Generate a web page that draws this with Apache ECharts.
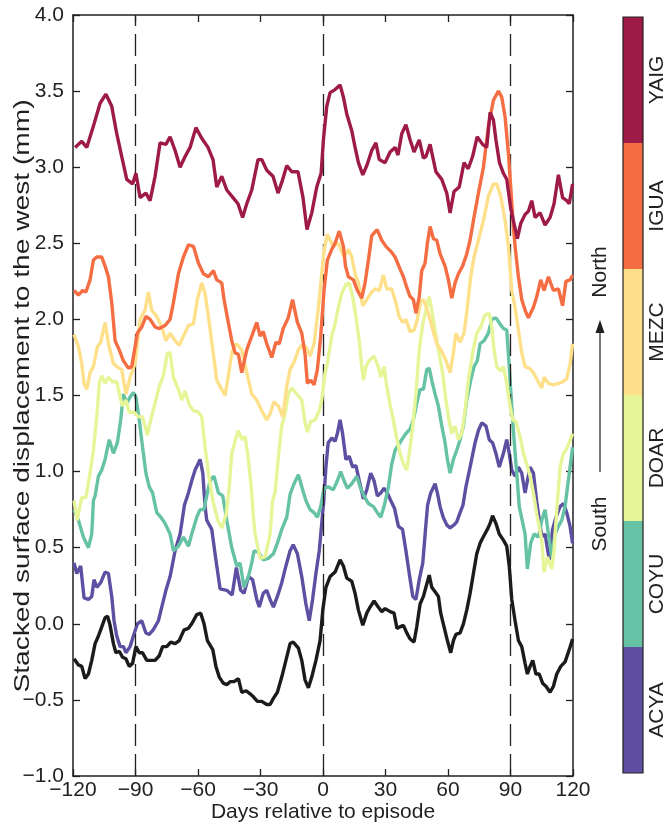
<!DOCTYPE html>
<html>
<head>
<meta charset="utf-8">
<script src="https://cdn.jsdelivr.net/npm/echarts@6/dist/echarts.min.js"></script>
<style>
html,body{margin:0;padding:0;background:#fff;}
#chart{width:666px;height:828px;}
</style>
</head>
<body>
<div id="chart"></div>
<script>
// ---- data: [day, displacement (mm)] ----
const xTicks = [-120, -90, -60, -30, 0, 30, 60, 90, 120];
const yTicks = [-1.0, -0.5, 0.0, 0.5, 1.0, 1.5, 2.0, 2.5, 3.0, 3.5, 4.0];
const episodeDays = [-90, 0, 90];
const stations = ['ACYA', 'COYU', 'DOAR', 'MEZC', 'IGUA', 'YAIG'];
const stationColors = ['#5E4FA2', '#66C2A5', '#E6F598', '#FEE08B', '#F46D43', '#9E1B47'];
const yTitle = 'Stacked surface displacement to the west (mm)';
const xTitle = 'Days relative to episode';

const stackMean = [[-119.5,-0.23],[-117.4,-0.27],[-115.8,-0.28],[-114.2,-0.36],[-112.6,-0.33],[-111,-0.24],[-109.4,-0.13],[-107.8,-0.08],[-106.2,-0.02],[-104.6,0.04],[-103.4,0.05],[-102.2,-0.01],[-100.6,-0.13],[-99.4,-0.19],[-97.8,-0.18],[-96.2,-0.22],[-94.6,-0.23],[-93,-0.28],[-91.4,-0.26],[-89.8,-0.15],[-88.2,-0.19],[-86.6,-0.19],[-84.6,-0.24],[-82.7,-0.24],[-80.6,-0.24],[-78.6,-0.21],[-77,-0.15],[-75,-0.15],[-73.1,-0.12],[-71,-0.13],[-69,-0.11],[-66.7,-0.04],[-64.6,-0.03],[-63,0.00],[-60.6,0.06],[-58.7,0.07],[-57.1,0.00],[-55.5,-0.11],[-52.9,-0.17],[-51.4,-0.28],[-49.8,-0.35],[-47.9,-0.39],[-46.2,-0.40],[-44.6,-0.38],[-42.7,-0.38],[-40.6,-0.36],[-39,-0.45],[-36.9,-0.44],[-35,-0.46],[-33.4,-0.48],[-31.5,-0.51],[-29.4,-0.51],[-27,-0.53],[-25.4,-0.53],[-23.8,-0.49],[-21.9,-0.45],[-19.8,-0.35],[-17.8,-0.24],[-15.8,-0.13],[-14.3,-0.12],[-11.8,-0.16],[-10.2,-0.24],[-8.6,-0.37],[-7,-0.42],[-5.4,-0.35],[-3.4,-0.24],[-1.4,-0.11],[-0.1,0.09],[1.4,0.24],[3.4,0.31],[5.8,0.34],[8.2,0.42],[9.8,0.38],[11.4,0.30],[13.8,0.28],[15.4,0.20],[17,0.09],[19.1,-0.01],[21,0.07],[22.6,0.11],[24.5,0.15],[26.5,0.11],[28.2,0.08],[29.8,0.10],[32.2,0.08],[34.1,0.07],[35.5,-0.03],[37,-0.02],[38.6,-0.01],[40.2,-0.06],[41.8,-0.10],[43.7,-0.12],[45,-0.02],[46.6,0.13],[48.2,0.18],[49.4,0.24],[51,0.32],[52.2,0.24],[53.8,0.21],[55.4,0.18],[56.5,0.07],[58.1,-0.02],[59.7,-0.11],[61.3,-0.19],[62.6,-0.11],[63.8,-0.07],[65.8,-0.06],[67.4,0.00],[69,0.09],[70.6,0.20],[72.2,0.33],[73.8,0.46],[75.4,0.53],[77.3,0.58],[78.9,0.62],[80.2,0.66],[81.4,0.71],[83,0.66],[84.6,0.59],[86.6,0.55],[88.2,0.51],[89.4,0.38],[90.6,0.16],[92.2,0.02],[93.8,-0.11],[95.4,-0.15],[97,-0.26],[98.1,-0.33],[99.4,-0.28],[100.7,-0.24],[102.2,-0.33],[103.8,-0.33],[105.4,-0.39],[107,-0.41],[109,-0.45],[110.6,-0.41],[112.2,-0.33],[114.1,-0.28],[116.2,-0.25],[118.2,-0.17],[119.8,-0.10]];

const acya = [[-119.5,0.40],[-118.2,0.33],[-116.3,0.38],[-114.7,0.17],[-112.6,0.16],[-111,0.18],[-109.9,0.29],[-108.6,0.24],[-106.7,0.27],[-104.6,0.34],[-103,0.33],[-101.4,0.18],[-100.3,0.02],[-99,-0.08],[-97.4,-0.15],[-95.8,-0.15],[-94.6,-0.19],[-92.6,-0.15],[-91,-0.08],[-89.1,0.00],[-87,0.02],[-85,-0.06],[-83.4,-0.07],[-81.5,-0.04],[-79,0.02],[-77.4,0.11],[-75.4,0.22],[-73.4,0.31],[-71,0.48],[-68.6,0.59],[-66.5,0.78],[-64.6,0.86],[-63,0.94],[-61.4,1.01],[-59,1.08],[-57.7,0.99],[-56.6,0.77],[-55.8,0.68],[-53.4,0.62],[-51.4,0.42],[-49.4,0.23],[-46.2,0.22],[-43.6,0.19],[-41.6,0.37],[-39.5,0.22],[-37.9,0.20],[-35.8,0.31],[-33.8,0.29],[-31.8,0.16],[-30.6,0.11],[-28.7,0.20],[-27,0.22],[-25.4,0.16],[-23.8,0.11],[-21.9,0.18],[-19.8,0.27],[-17.8,0.38],[-15.8,0.48],[-14.3,0.52],[-12.3,0.46],[-10.2,0.31],[-8.2,0.13],[-6.6,0.02],[-5,0.16],[-3.4,0.33],[-1.8,0.48],[-0.6,0.66],[0.3,0.80],[1.4,1.03],[2.5,1.19],[4.2,1.22],[5.8,1.20],[6.9,1.25],[8.2,1.34],[9.4,1.25],[11,1.08],[12.6,1.10],[14.2,1.03],[15.8,1.04],[17.4,0.94],[19.4,0.82],[21,0.88],[22.9,0.99],[24.5,0.94],[26.1,0.84],[27.7,0.86],[29.3,0.89],[30.9,0.86],[32.5,0.81],[34.3,0.76],[36.2,0.64],[38.2,0.62],[39.8,0.48],[41.4,0.33],[43.1,0.18],[44.6,0.16],[46.2,0.29],[47.9,0.40],[49.2,0.62],[50.2,0.78],[51.7,0.86],[53.8,0.92],[54.9,0.86],[56.2,0.77],[57.7,0.70],[59.4,0.65],[61,0.63],[62.9,0.65],[64.2,0.67],[65.8,0.73],[67.2,0.78],[68.6,0.90],[70.6,1.03],[73,1.19],[74.6,1.27],[76.2,1.32],[78.2,1.30],[79.8,1.21],[81.4,1.19],[83,1.12],[84.6,1.03],[86.6,1.12],[88.2,1.21],[89.4,1.12],[90.6,1.01],[92.2,0.97],[93.8,1.03],[95.4,0.99],[97,0.86],[98.1,0.94],[99.4,1.03],[101,0.99],[102.6,0.80],[105,0.57],[106.6,0.59],[108.6,0.42],[110.2,0.62],[111.8,0.70],[113.8,0.77],[115.5,0.79],[117,0.73],[118.6,0.64],[119.8,0.53]];

const coyu = [[-119.5,0.75],[-117.4,0.68],[-115,0.57],[-112.6,0.50],[-111,0.59],[-110.2,0.81],[-109.4,0.84],[-107.8,0.97],[-106.2,1.01],[-104.6,1.08],[-102.6,1.21],[-100.6,1.12],[-98.7,1.19],[-97.1,1.34],[-95.8,1.51],[-94.2,1.45],[-92.6,1.49],[-91,1.52],[-89.8,1.49],[-88.2,1.34],[-86.6,1.16],[-85,0.99],[-83.4,0.90],[-81.8,0.86],[-79.8,0.73],[-77.8,0.70],[-75.8,0.66],[-73.4,0.59],[-71.8,0.48],[-69.4,0.51],[-67,0.57],[-64.6,0.51],[-63,0.59],[-60.6,0.70],[-59,0.75],[-57.2,0.75],[-55.5,0.86],[-54.2,0.94],[-52.3,0.97],[-50.2,0.86],[-48.1,0.84],[-46.2,0.68],[-43.8,0.50],[-41.4,0.38],[-39.8,0.40],[-37.9,0.24],[-35.8,0.31],[-34.2,0.40],[-33.1,0.48],[-31,0.47],[-28.7,0.42],[-26.2,0.43],[-23.8,0.46],[-21.9,0.53],[-19.8,0.62],[-17.4,0.70],[-15.8,0.85],[-13.9,0.92],[-11.8,0.98],[-10.2,0.90],[-8.2,0.81],[-6.2,0.75],[-4.3,0.73],[-2.7,0.70],[-1.1,0.77],[0.5,0.89],[2.5,0.90],[4.9,0.88],[6.9,0.94],[8.5,1.00],[10.1,0.94],[11.7,0.89],[13.8,0.92],[16.2,0.97],[17.8,0.90],[19.7,0.84],[21.8,0.79],[24.2,0.77],[26.1,0.73],[27.7,0.70],[29.3,0.77],[31.4,0.90],[33,1.05],[34.6,1.14],[36.5,1.18],[37.8,1.21],[39.8,1.25],[41.8,1.28],[43.4,1.34],[45,1.45],[46.6,1.54],[48.2,1.54],[49.8,1.67],[51,1.68],[52.2,1.60],[53.8,1.51],[55.4,1.43],[57,1.30],[58.6,1.19],[59.7,1.08],[61,0.99],[62.6,1.08],[64.2,1.14],[65.8,1.21],[67.4,1.30],[69,1.47],[70.9,1.60],[72.5,1.69],[74.1,1.73],[75.4,1.84],[77.3,1.86],[79.4,1.91],[81,2.00],[83,2.01],[85,1.97],[86.6,1.94],[88.2,1.93],[89.4,1.69],[90.6,1.43],[91.7,1.21],[93,0.99],[94.2,0.77],[97,0.59],[98.1,0.36],[99.7,0.53],[101.3,0.59],[103.4,0.57],[105,0.68],[106.6,0.75],[108.2,0.59],[109.8,0.44],[111.4,0.59],[113,0.64],[114.6,0.68],[116.2,0.77],[117,0.86],[118.6,1.03],[119.8,1.16]];

const doar = [[-119.5,0.81],[-118,0.68],[-115.8,0.83],[-113.8,0.83],[-111.8,0.99],[-110.2,1.14],[-108.6,1.36],[-107.4,1.58],[-106.2,1.63],[-104.6,1.58],[-103,1.62],[-101,1.59],[-99,1.59],[-97.4,1.49],[-96.2,1.43],[-94.6,1.47],[-93,1.39],[-90.7,1.39],[-88.6,1.36],[-86.6,1.36],[-84.3,1.24],[-82.7,1.34],[-80.6,1.45],[-78.6,1.56],[-76.6,1.63],[-74.7,1.78],[-73.4,1.78],[-71.8,1.62],[-69.4,1.54],[-67.8,1.47],[-66.2,1.53],[-64.2,1.44],[-62.2,1.40],[-59.8,1.39],[-58.2,1.36],[-56.6,1.16],[-55,0.99],[-52.9,0.81],[-50.5,0.68],[-48.6,0.63],[-46.5,0.72],[-45,0.90],[-43.8,1.12],[-42,1.21],[-40.6,1.27],[-39,1.21],[-37.4,1.23],[-35.8,1.08],[-34.2,0.86],[-33.4,0.70],[-32.6,0.59],[-30.2,0.43],[-27.8,0.44],[-25.4,0.59],[-24.2,0.81],[-23,0.86],[-21.4,1.10],[-19.8,1.30],[-18.2,1.38],[-16.7,1.51],[-15,1.55],[-12.6,1.51],[-10.2,1.47],[-8.6,1.32],[-7.5,1.26],[-5.9,1.33],[-3.8,1.34],[-1.8,1.40],[-0.6,1.47],[1,1.65],[2.1,1.71],[4.2,1.89],[5.8,1.97],[7.4,2.08],[9,2.17],[11,2.23],[12.6,2.24],[14.2,2.15],[15.8,2.02],[17.4,1.86],[18.6,1.69],[19.4,1.60],[20.6,1.69],[22.2,1.73],[24.5,1.76],[26.5,1.69],[27.7,1.62],[29.3,1.69],[30.6,1.56],[32.2,1.44],[33.8,1.34],[35.2,1.23],[37,1.12],[38.6,1.05],[40.2,1.01],[41.4,1.12],[43.1,1.30],[44.6,1.51],[46.2,1.80],[47.9,1.97],[49.4,2.06],[51,2.15],[52.2,2.06],[53.8,1.93],[55.4,1.80],[57.4,1.65],[59,1.47],[60.2,1.36],[61.8,1.25],[63.4,1.30],[65,1.21],[66.6,1.25],[68.2,1.40],[69.8,1.60],[71.8,1.78],[73.8,1.91],[75.7,1.95],[77.8,2.03],[79.8,2.04],[81,1.95],[82.1,1.80],[83.4,1.69],[85.3,1.66],[86.6,1.69],[88.2,1.58],[89.8,1.43],[91.1,1.34],[92.6,1.33],[94.6,1.23],[96.2,1.12],[97.8,1.05],[99.4,0.97],[101,0.86],[102.6,0.72],[105,0.55],[106.1,0.34],[107.7,0.44],[109.8,0.36],[110.9,0.48],[112.2,0.75],[113.8,1.03],[115.4,1.12],[116.6,1.14],[118.2,1.19],[119.8,1.25]];

const mezc = [[-119.5,1.90],[-117.4,1.82],[-115.8,1.71],[-114.7,1.58],[-113.4,1.54],[-111.8,1.65],[-110.2,1.69],[-108.3,1.82],[-106.7,1.85],[-104.6,1.98],[-103,1.84],[-100.6,1.71],[-99,1.69],[-96.6,1.67],[-94.6,1.51],[-92.6,1.62],[-90.2,1.71],[-87.8,2.00],[-85.4,2.06],[-83.8,2.18],[-82.2,2.06],[-79.8,2.02],[-77.4,1.95],[-75.4,1.86],[-73.4,1.91],[-71,1.86],[-69,1.83],[-67,1.89],[-64.6,1.96],[-62.2,1.97],[-60.3,2.13],[-58.2,2.24],[-56.6,2.17],[-55,2.02],[-52.9,1.80],[-51,1.60],[-49.4,1.56],[-47,1.50],[-45.2,1.65],[-43.6,1.79],[-41.5,1.84],[-39,1.80],[-36.6,1.65],[-34.2,1.51],[-31.8,1.47],[-29.4,1.40],[-27,1.34],[-25.4,1.38],[-23.5,1.46],[-21.4,1.43],[-19.3,1.36],[-17.4,1.56],[-15.8,1.67],[-13.9,1.72],[-11.8,1.80],[-10.2,1.83],[-8.2,1.82],[-6.2,1.76],[-4.3,1.84],[-2.2,2.08],[-0.6,2.30],[0.5,2.45],[2,2.56],[4.9,2.48],[7.4,2.50],[10.1,2.41],[12.2,2.46],[13.8,2.41],[15.4,2.30],[17,2.24],[19.1,2.09],[21,2.13],[23.4,2.18],[25,2.20],[27,2.19],[29,2.29],[30.6,2.20],[33,2.20],[35,2.11],[36.5,2.02],[38.2,1.98],[39.8,2.00],[41.8,1.92],[43.7,1.93],[45.3,2.00],[46.9,2.12],[48.2,2.13],[50.1,2.06],[52.2,1.96],[54.6,1.84],[57,1.79],[59,1.73],[61,1.65],[62.6,1.78],[63.8,1.91],[65.8,1.85],[67.7,1.91],[69.3,2.08],[70.9,2.28],[72.5,2.41],[74.6,2.52],[77,2.65],[79.4,2.81],[81.8,2.89],[83.4,2.89],[85.3,2.81],[87.4,2.65],[89,2.48],[90.6,2.19],[92.2,2.08],[93.8,1.93],[95.4,1.78],[97,1.69],[99,1.68],[101,1.65],[102.9,1.60],[105,1.55],[106.1,1.62],[108.2,1.58],[110.6,1.57],[113,1.58],[115,1.59],[117,1.61],[118.6,1.71],[119.8,1.84]];

const igua = [[-119.5,2.19],[-117.4,2.16],[-115.4,2.19],[-113.8,2.18],[-111.8,2.26],[-110.2,2.39],[-108.6,2.41],[-106.2,2.41],[-104.6,2.35],[-103,2.28],[-101.4,2.11],[-99.8,1.86],[-97.8,1.80],[-95.9,1.73],[-93.4,1.68],[-91.8,1.69],[-90.2,1.82],[-89.1,1.91],[-87,1.95],[-85,2.02],[-83,2.00],[-80.6,1.95],[-78.6,1.94],[-75.8,1.96],[-73.4,2.00],[-71.8,2.11],[-69.4,2.30],[-67,2.41],[-64.6,2.49],[-62.2,2.48],[-59.8,2.37],[-57.4,2.30],[-55,2.28],[-52.6,2.32],[-51,2.26],[-48.6,2.24],[-47.5,2.13],[-46,2.02],[-43.8,1.86],[-42.2,1.78],[-40.6,1.77],[-39,1.65],[-36.6,1.80],[-34.2,1.89],[-31.8,1.98],[-30.2,1.89],[-28.7,1.92],[-27,1.84],[-24.6,1.75],[-22.6,1.85],[-21,1.84],[-19.1,1.94],[-16.7,2.01],[-14.6,2.13],[-12.3,1.98],[-10.2,1.91],[-8.6,1.77],[-7.5,1.58],[-5.9,1.60],[-4.3,1.57],[-2.7,1.67],[-1.1,1.89],[0.5,2.19],[2.1,2.39],[4.2,2.46],[5.8,2.50],[7.8,2.58],[9.8,2.48],[10.8,2.35],[12.2,2.28],[14.6,2.26],[16.5,2.19],[18.6,2.14],[20.2,2.24],[21.8,2.39],[23.4,2.55],[26,2.59],[28.2,2.52],[30.2,2.48],[33,2.44],[34.6,2.41],[37,2.33],[38.6,2.28],[40.2,2.21],[41.8,2.15],[43.4,2.13],[44.6,2.04],[46.2,2.15],[47.4,2.32],[49,2.37],[50.1,2.50],[51.4,2.61],[53,2.53],[54.6,2.52],[56.2,2.43],[58.6,2.35],[60.2,2.26],[61.8,2.14],[63.4,2.24],[65,2.30],[67,2.35],[69,2.43],[70.6,2.52],[72.2,2.65],[74.6,2.83],[77,3.00],[79.4,3.27],[81.8,3.44],[84.2,3.50],[85.8,3.46],[87.4,3.33],[89,3.09],[90.1,2.87],[91.4,2.61],[92.2,2.48],[93.8,2.28],[95.4,2.13],[97,2.06],[98.6,2.01],[101,2.08],[102.6,2.15],[104.5,2.26],[106.1,2.19],[108.2,2.28],[110.6,2.19],[113,2.20],[115,2.09],[116.6,2.25],[118.6,2.26],[119.8,2.29]];

const yaig = [[-119,3.13],[-115.8,3.17],[-113.4,3.13],[-110.2,3.27],[-107,3.42],[-104.2,3.48],[-101.4,3.40],[-99,3.22],[-96.6,3.07],[-94.2,2.92],[-91.4,2.89],[-89.8,2.96],[-87.8,2.80],[-85,2.83],[-83,2.78],[-80.6,2.94],[-78.2,3.16],[-75.4,3.15],[-73.4,3.20],[-71,3.11],[-68.6,3.00],[-66.2,3.07],[-63.8,3.13],[-61,3.26],[-58.2,3.19],[-55.2,3.13],[-52.8,3.05],[-51,2.87],[-48.6,2.94],[-46.2,2.85],[-43.2,2.80],[-40.8,2.76],[-38.6,2.67],[-36.6,2.76],[-34.2,2.85],[-31.2,3.05],[-29.4,3.05],[-27,2.98],[-24,2.94],[-21.6,2.83],[-19.8,2.90],[-17.4,3.01],[-15,2.97],[-12,2.97],[-9.6,2.80],[-7.7,2.59],[-5.4,2.70],[-3,2.87],[-0.9,2.96],[0.2,3.18],[1.8,3.40],[3.4,3.49],[5.8,3.51],[8.2,3.54],[9.8,3.46],[11.4,3.35],[13.8,3.24],[15.4,3.13],[17,3.03],[19.1,2.95],[21,3.01],[23.4,3.11],[25.4,3.16],[27,3.05],[29.8,3.03],[32.2,3.10],[34.6,3.13],[36,3.08],[37.8,3.22],[39.8,3.28],[41.8,3.18],[43.7,3.10],[46.2,3.18],[48.2,3.06],[49.4,3.07],[51.4,3.15],[54.2,2.97],[57,2.92],[59.4,2.83],[61,2.70],[62.9,2.84],[65.4,2.87],[67.7,3.03],[69.7,2.99],[71.8,3.07],[74,3.20],[76.6,3.15],[78.6,3.13],[80.2,3.36],[81.8,3.31],[83,3.18],[84.7,3.03],[86.6,2.96],[88.2,2.92],[90.1,2.73],[91.7,2.63],[93.3,2.53],[94.9,2.63],[97,2.69],[98.6,2.71],[100.2,2.78],[101.8,2.67],[104.2,2.70],[106.6,2.62],[109,2.67],[110.9,2.76],[113,2.95],[115,2.80],[117,2.78],[118.2,2.76],[119.8,2.89]];

const stationData = [acya, coyu, doar, mezc, igua, yaig];

// ---- chart ----
const FONT = 'Liberation Sans, Arial, Helvetica, sans-serif';
const TXT = '#231f20';
const fmt = v => String(v).replace('-', '\u2212');
const fmtY = v => v.toFixed(1).replace('-', '\u2212');

const chart = echarts.init(document.getElementById('chart'), null, {renderer: 'canvas'});

const axisLine = {onZero: false, lineStyle: {color: TXT, width: 1.5}};
const tick = {inside: true, length: 7, lineStyle: {color: TXT, width: 1.3}};

const series = [{
  type: 'line', data: stackMean, showSymbol: false, symbol: 'none',
  lineStyle: {color: '#1c1a1a', width: 3.4}, z: 2,
  markLine: {
    silent: true, symbol: 'none', animation: false,
    label: {show: false},
    lineStyle: {color: TXT, width: 1.3, type: [22, 8]},
    data: episodeDays.map(d => ({xAxis: d}))
  }
}];
stations.forEach((name, i) => {
  series.push({
    name, type: 'line', data: stationData[i], showSymbol: false, symbol: 'none',
    lineStyle: {color: stationColors[i], width: 3.4}, z: 3 + i
  });
});

// colorbar + annotations
const cbX = 623, cbW = 20, cbTop = 17, cbBottom = 773;
const segH = (cbBottom - cbTop) / stations.length;
const graphic = [];
stations.forEach((name, i) => {
  const y0 = cbBottom - (i + 1) * segH;
  graphic.push({type: 'rect', shape: {x: cbX, y: y0, width: cbW, height: segH},
    style: {fill: stationColors[i]}, silent: true});
  graphic.push({type: 'text', x: 657, y: y0 + segH / 2, rotation: Math.PI / 2,
    style: {text: name, fill: TXT, font: '21px ' + FONT, align: 'center', verticalAlign: 'middle'}});
});
graphic.push({type: 'rect', shape: {x: cbX, y: cbTop, width: cbW, height: cbBottom - cbTop},
  style: {fill: 'none', stroke: TXT, lineWidth: 1.2}, silent: true});
graphic.push({type: 'text', x: 600, y: 272, rotation: Math.PI / 2,
  style: {text: 'North', fill: TXT, font: '21px ' + FONT, align: 'center', verticalAlign: 'middle'}});
graphic.push({type: 'text', x: 600, y: 524, rotation: Math.PI / 2,
  style: {text: 'South', fill: TXT, font: '21px ' + FONT, align: 'center', verticalAlign: 'middle'}});
graphic.push({type: 'line', shape: {x1: 600, y1: 472, x2: 600, y2: 330},
  style: {stroke: TXT, lineWidth: 1.2}});
graphic.push({type: 'polygon', shape: {points: [[600, 320], [595.5, 333], [604.5, 333]]},
  style: {fill: TXT}});
// y-axis title (long, spanning most of the axis height as in the reference)
graphic.push({type: 'text', x: 23, y: 396, rotation: Math.PI / 2, scaleX: 1.28,
  style: {text: yTitle, fill: TXT, font: '22px ' + FONT, align: 'center', verticalAlign: 'middle'}});

const option = {
  animation: false,
  backgroundColor: '#fff',
  grid: {left: 73, right: 93, top: 15, bottom: 52, containLabel: false, outerBoundsMode: 'none'},
  xAxis: [{
    type: 'value', min: xTicks[0], max: xTicks[xTicks.length - 1], interval: 30, position: 'bottom',
    axisLine, axisTick: tick, splitLine: {show: false},
    axisLabel: {formatter: fmt, color: TXT, fontSize: 21, fontFamily: FONT, margin: 4},
    name: xTitle, nameLocation: 'middle', nameGap: 26, nameMoveOverlap: false,
    nameTextStyle: {color: TXT, fontSize: 21, fontFamily: FONT}
  }, {
    type: 'value', min: xTicks[0], max: xTicks[xTicks.length - 1], interval: 30, position: 'top',
    axisLine, axisTick: tick, splitLine: {show: false}, axisLabel: {show: false}
  }],
  yAxis: [{
    type: 'value', min: yTicks[0], max: yTicks[yTicks.length - 1], interval: 0.5, position: 'left',
    axisLine, axisTick: tick, splitLine: {show: false},
    axisLabel: {formatter: fmtY, color: TXT, fontSize: 21, fontFamily: FONT, margin: 9}
  }, {
    type: 'value', min: yTicks[0], max: yTicks[yTicks.length - 1], interval: 0.5, position: 'right',
    axisLine, axisTick: tick, splitLine: {show: false}, axisLabel: {show: false}
  }],
  series,
  graphic
};
chart.setOption(option);
</script>
</body>
</html>
